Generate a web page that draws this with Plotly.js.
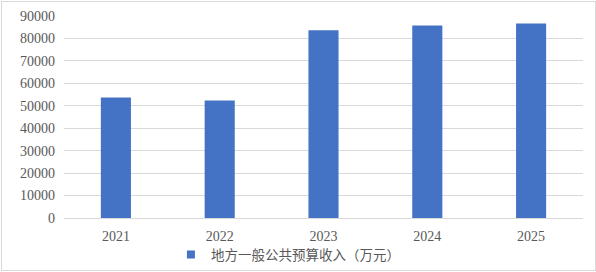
<!DOCTYPE html>
<html>
<head>
<meta charset="utf-8">
<script src="https://cdn.plot.ly/plotly-3.0.1.min.js"></script>
<style>
html,body{margin:0;padding:0;background:#fff;}
#wrap{position:relative;width:596px;height:272px;}
#chart{width:596px;height:272px;}
#frame{position:absolute;left:1px;top:1px;width:593px;height:268px;border:1px solid #d9d9d9;pointer-events:none;}
</style>
</head>
<body>
<div id="wrap"><div id="chart"></div><div id="frame"></div></div>
<script>
const years = ['2021', '2022', '2023', '2024', '2025'];
const revenue = [53700, 52400, 83600, 85800, 86700];
const seriesName = '地方一般公共预算收入（万元）';
const yTicks = [0, 10000, 20000, 30000, 40000, 50000, 60000, 70000, 80000, 90000];

const barColor = '#4472C4';
const textColor = '#595959';

const traces = [
  {
    type: 'bar',
    x: years,
    y: revenue,
    name: seriesName,
    marker: {color: barColor},
    showlegend: false,
    hoverinfo: 'x+y'
  },
  {
    type: 'scatter',
    mode: 'markers',
    x: [null],
    y: [null],
    name: seriesName,
    marker: {color: barColor, symbol: 'square', size: 8},
    showlegend: true,
    hoverinfo: 'skip'
  }
];

const layout = {
  width: 596,
  height: 272,
  margin: {l: 64, r: 13, t: 16, b: 54, autoexpand: false},
  paper_bgcolor: '#ffffff',
  plot_bgcolor: '#ffffff',
  bargap: 0.71,
  font: {family: '"Liberation Serif", "Times New Roman", serif', size: 14, color: textColor},
  xaxis: {
    type: 'category',
    showgrid: false,
    showline: true,
    linecolor: '#d9d9d9',
    linewidth: 1,
    ticks: '',
    tickfont: {family: '"Liberation Serif", serif', size: 14, color: textColor},
    ticklabelstandoff: 5
  },
  yaxis: {
    range: [0, 90000],
    tickvals: yTicks,
    ticktext: yTicks.map(String),
    showgrid: true,
    gridcolor: '#d9d9d9',
    gridwidth: 1,
    zeroline: false,
    showline: false,
    ticks: '',
    tickfont: {family: '"Liberation Serif", serif', size: 14, color: textColor},
    ticklabelstandoff: 8
  },
  showlegend: true,
  legend: {
    orientation: 'h',
    x: 0.206,
    xanchor: 'left',
    y: -0.105,
    yanchor: 'top',
    font: {family: '"Noto Sans CJK SC", sans-serif', size: 13.5, color: textColor},
    itemwidth: 30,
    bgcolor: 'rgba(0,0,0,0)'
  }
};

Plotly.newPlot('chart', traces, layout, {displayModeBar: false, staticPlot: true});
</script>
</body>
</html>
